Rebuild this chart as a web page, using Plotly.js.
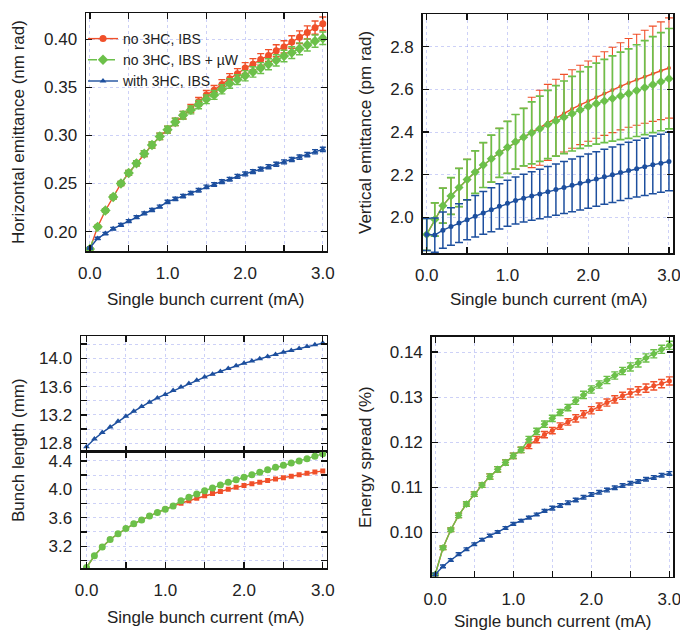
<!DOCTYPE html>
<html>
<head>
<meta charset="utf-8">
<script src="https://cdn.plot.ly/plotly-3.0.1.min.js"></script>
<style>html,body{margin:0;padding:0;background:#fff;}#chart{width:680px;height:630px;}</style>
</head>
<body>
<div id="chart"></div>
<script>
// ---------- data ----------
const current = [0,0.1,0.2,0.3,0.4,0.5,0.6,0.7,0.8,0.9,1.0,1.1,1.2,1.3,1.4,1.5,1.6,1.7,1.8,1.9,2.0,2.1,2.2,2.3,2.4,2.5,2.6,2.7,2.8,2.9,3.0];
const seriesNames = ["no 3HC, IBS", "no 3HC, IBS + \u00b5W", "with 3HC, IBS"];

// Horizontal emittance (nm rad)
const hRed   = [0.182,0.205,0.222,0.236,0.250,0.261,0.271,0.281,0.290,0.299,0.306,0.314,0.321,0.328,0.335,0.342,0.347,0.353,0.359,0.364,0.370,0.374,0.379,0.383,0.388,0.392,0.397,0.402,0.407,0.412,0.416];
const hGreen = [0.182,0.205,0.222,0.236,0.250,0.261,0.271,0.281,0.290,0.299,0.306,0.314,0.321,0.3265,0.332,0.3375,0.342,0.348,0.354,0.358,0.362,0.366,0.370,0.374,0.378,0.3825,0.386,0.390,0.394,0.398,0.401];
const hBlue  = [0.183,0.193,0.198,0.203,0.207,0.211,0.215,0.219,0.2225,0.226,0.231,0.234,0.237,0.240,0.243,0.2465,0.249,0.252,0.2545,0.2575,0.260,0.2625,0.265,0.2675,0.270,0.2725,0.275,0.2775,0.280,0.283,0.2855];
const hRedErr   = [0.001,0.0015,0.0018,0.002,0.0022,0.0025,0.0027,0.003,0.0032,0.0034,0.0036,0.0038,0.004,0.0042,0.0044,0.0046,0.0048,0.005,0.0052,0.0054,0.0056,0.0058,0.006,0.0061,0.0062,0.0064,0.0065,0.0066,0.0068,0.0069,0.007];
const hGreenErr = [0.001,0.0015,0.0018,0.002,0.0022,0.0025,0.0027,0.003,0.0032,0.0034,0.0036,0.0038,0.004,0.0041,0.0043,0.0045,0.0046,0.0048,0.005,0.0051,0.0053,0.0054,0.0056,0.0057,0.0058,0.006,0.0061,0.0062,0.0063,0.0064,0.0065];
const hBlueErr  = [0.001,0.0012,0.0013,0.0014,0.0014,0.0015,0.0015,0.0016,0.0016,0.0016,0.0017,0.0017,0.0017,0.0018,0.0018,0.0018,0.0019,0.0019,0.0019,0.002,0.002,0.002,0.002,0.0021,0.0021,0.0021,0.0021,0.0022,0.0022,0.0022,0.0022];

// Vertical emittance (pm rad)
const vRed   = [1.92,1.99,2.055,2.10,2.14,2.177,2.212,2.245,2.275,2.302,2.328,2.354,2.376,2.398,2.42,2.445,2.467,2.488,2.508,2.527,2.545,2.563,2.58,2.597,2.614,2.63,2.645,2.659,2.673,2.687,2.70];
const vGreen = [1.92,1.99,2.055,2.10,2.14,2.177,2.212,2.245,2.275,2.302,2.328,2.354,2.376,2.396,2.415,2.435,2.452,2.469,2.486,2.503,2.52,2.533,2.545,2.557,2.569,2.58,2.594,2.608,2.622,2.636,2.65];
const vBlue  = [1.92,1.917,1.94,1.957,1.973,1.989,2.005,2.021,2.036,2.052,2.066,2.079,2.09,2.10,2.11,2.12,2.13,2.14,2.15,2.16,2.17,2.18,2.19,2.20,2.21,2.22,2.228,2.237,2.246,2.254,2.262];
const vRedErr   = [0.075,0.078,0.082,0.086,0.09,0.095,0.1,0.105,0.11,0.115,0.122,0.128,0.135,0.165,0.176,0.178,0.18,0.182,0.184,0.186,0.188,0.192,0.196,0.2,0.204,0.208,0.213,0.218,0.223,0.229,0.235];
const vGreenErr = [0.075,0.078,0.082,0.086,0.09,0.095,0.1,0.105,0.11,0.115,0.122,0.128,0.135,0.145,0.153,0.16,0.165,0.17,0.175,0.18,0.185,0.19,0.195,0.2,0.205,0.21,0.215,0.22,0.225,0.23,0.235];
const vBlueErr  = [0.075,0.08,0.085,0.088,0.091,0.094,0.097,0.1,0.103,0.106,0.108,0.11,0.112,0.114,0.116,0.118,0.12,0.122,0.124,0.125,0.127,0.128,0.129,0.13,0.131,0.132,0.133,0.134,0.135,0.136,0.137];

// Bunch length (mm)
const bBlue  = [12.75,12.86,12.95,13.03,13.11,13.18,13.25,13.32,13.38,13.44,13.49,13.545,13.595,13.645,13.69,13.735,13.775,13.815,13.855,13.893,13.93,13.96,13.995,14.025,14.055,14.085,14.11,14.14,14.165,14.19,14.215];
const bRed   = [2.90,3.065,3.19,3.295,3.375,3.45,3.515,3.57,3.625,3.675,3.72,3.765,3.805,3.84,3.875,3.91,3.94,3.97,4.0,4.03,4.055,4.08,4.10,4.125,4.145,4.165,4.185,4.205,4.225,4.245,4.26];
const bGreen = [2.90,3.065,3.19,3.295,3.375,3.45,3.515,3.57,3.625,3.675,3.72,3.765,3.84,3.89,3.935,3.98,4.02,4.06,4.10,4.135,4.17,4.205,4.24,4.275,4.31,4.34,4.37,4.40,4.43,4.465,4.50];

// Energy spread (%)
const eRed   = [0.0907,0.0966,0.1006,0.1038,0.1063,0.1085,0.1105,0.1124,0.114,0.1155,0.117,0.1183,0.1193,0.1206,0.1217,0.1226,0.1236,0.1245,0.1253,0.1262,0.1271,0.1279,0.1288,0.1295,0.1303,0.1309,0.1314,0.132,0.1325,0.133,0.1336];
const eGreen = [0.0907,0.0966,0.1006,0.1038,0.1063,0.1085,0.1105,0.1124,0.114,0.1155,0.117,0.1183,0.1206,0.1224,0.124,0.1253,0.1266,0.1277,0.1292,0.1305,0.1317,0.1328,0.1338,0.1348,0.1358,0.1367,0.1376,0.1387,0.1396,0.1406,0.1415];
const eBlue  = [0.0907,0.0925,0.0939,0.0952,0.0963,0.0974,0.0984,0.0993,0.1001,0.101,0.1019,0.1026,0.1033,0.104,0.1048,0.1054,0.106,0.1066,0.1072,0.1078,0.1084,0.1089,0.1094,0.1099,0.1104,0.1109,0.1113,0.1118,0.1122,0.1127,0.1131];
const eRedErr   = [0.0003,0.0004,0.0004,0.0005,0.0005,0.0005,0.0005,0.0006,0.0006,0.0006,0.0006,0.0006,0.0007,0.0007,0.0007,0.0007,0.0007,0.0007,0.0008,0.0008,0.0008,0.0008,0.0008,0.0008,0.0008,0.0009,0.0009,0.0009,0.0009,0.0009,0.0009];
const eGreenErr = [0.0003,0.0004,0.0004,0.0005,0.0005,0.0005,0.0005,0.0006,0.0006,0.0006,0.0006,0.0006,0.0007,0.0007,0.0007,0.0007,0.0007,0.0007,0.0008,0.0008,0.0008,0.0008,0.0008,0.0008,0.0008,0.0009,0.0009,0.0009,0.0009,0.0009,0.0009];
const eBlueErr  = [0.0003,0.0003,0.0003,0.0003,0.0003,0.0003,0.0003,0.0003,0.0003,0.0003,0.0003,0.0003,0.0003,0.0003,0.0003,0.0004,0.0004,0.0004,0.0004,0.0004,0.0004,0.0004,0.0004,0.0004,0.0004,0.0004,0.0004,0.0004,0.0004,0.0004,0.0004];

// ---------- styling ----------
const RED = '#f0502a', GREEN = '#6cc04a', BLUE = '#1d4f9e';
const FONT = 'Liberation Sans, Arial, Helvetica, sans-serif';
const GRID = 'rgba(135,145,235,0.42)';

function errBar(arr, color, w, th) {
  return {type:'data', array:arr, visible:true, color:color, thickness:th || 1.4, width:w};
}
function trace(y, err, color, symbol, size, xa, ya, name, legend, dash, capw, th) {
  const t = {
    x: current, y: y, type:'scatter', mode:'lines+markers',
    line:{color:color, width:1.4, dash: dash || 'solid'},
    marker:{color:color, symbol:symbol, size:size},
    xaxis: xa, yaxis: ya, name: name, showlegend: !!legend
  };
  if (err) t.error_y = errBar(err, color, capw || 3.5, th);
  return t;
}

const data = [
  // Top-left: horizontal emittance
  trace(hRed,   hRedErr,   RED,   'circle',      7, 'x',  'y',  seriesNames[0], true, 'solid', 3.5),
  trace(hGreen, hGreenErr, GREEN, 'diamond',     8, 'x',  'y',  seriesNames[1], true, 'dash', 3.5),
  trace(hBlue,  hBlueErr,  BLUE,  'triangle-up', 6, 'x',  'y',  seriesNames[2], true, 'solid', 3),
  // Top-right: vertical emittance
  trace(vRed,   vRedErr,   RED,   'circle',      4, 'x2', 'y2', seriesNames[0], false, 'solid', 4, 1.1),
  trace(vGreen, vGreenErr, GREEN, 'diamond',     7, 'x2', 'y2', seriesNames[1], false, 'solid', 4, 1.7),
  trace(vBlue,  vBlueErr,  BLUE,  'circle',      5, 'x2', 'y2', seriesNames[2], false, 'solid', 4, 1.5),
  // Bottom-left: bunch length
  trace(bBlue,  null,      BLUE,  'triangle-up', 6, 'x3', 'y3', seriesNames[2], false),
  trace(bRed,   null,      RED,   'square',      5, 'x4', 'y4', seriesNames[0], false),
  trace(bGreen, null,      GREEN, 'circle',      7, 'x4', 'y4', seriesNames[1], false),
  // Bottom-right: energy spread
  trace(eRed,   eRedErr,   RED,   'circle',      5, 'x5', 'y5', seriesNames[0], false, 'solid', 3.5),
  trace(eGreen, eGreenErr, GREEN, 'diamond',     6, 'x5', 'y5', seriesNames[1], false, 'solid', 3.5),
  trace(eBlue,  eBlueErr,  BLUE,  'triangle-up', 5, 'x5', 'y5', seriesNames[2], false, 'solid', 3)
];

function axis(opts) {
  const a = {
    domain: opts.domain, anchor: opts.anchor, range: opts.range,
    showline:true, linecolor:'#111', linewidth:1.5, mirror:'allticks',
    ticks:'inside', ticklen:6, tickwidth:1.3, tickcolor:'#111',
    showgrid:true, gridcolor:GRID, griddash:'dot', gridwidth:1,
    zeroline:false, tickmode:'linear', tick0: opts.tick0, dtick: opts.dtick,
    tickformat: opts.fmt, showticklabels: opts.labels !== false,
    tickfont:{family:FONT, size:17, color:'#222'},
    ticklabeloverflow:'allow',
    ticklabelstandoff: opts.standoff || 4, fixedrange:true
  };
  if (opts.minor) a.minor = {tick0: opts.tick0, dtick: opts.minor, ticks:'inside', ticklen:6, tickwidth:1.3, tickcolor:'#111', showgrid:true, gridcolor:GRID, griddash:'dot', gridwidth:1};
  return a;
}

function px(v){ return v/680; }
function py(v){ return 1 - v/630; }

const layout = {
  width:680, height:630, paper_bgcolor:'#fff', plot_bgcolor:'#fff',
  margin:{l:0, r:0, t:0, b:0},
  font:{family:FONT, color:'#222'},
  showlegend:true,
  legend:{x:px(83), y:py(23), xanchor:'left', yanchor:'top', bgcolor:'rgba(255,255,255,0)',
          borderwidth:0, font:{family:FONT, size:14, color:'#222'}, tracegroupgap:0, itemwidth:30},
  xaxis:  axis({domain:[px(86), px(326.7)], anchor:'y',  range:[-0.05,3.05], tick0:0, dtick:1, minor:0.5, fmt:'.1f', standoff:6}),
  yaxis:  axis({domain:[py(251), py(13)],   anchor:'x',  range:[0.1799,0.4272], tick0:0, dtick:0.05, fmt:'.2f'}),
  xaxis2: axis({domain:[px(422.7), px(673)], anchor:'y2', range:[-0.05,3.05], tick0:0, dtick:1, minor:0.5, fmt:'.1f', standoff:6}),
  yaxis2: axis({domain:[py(253), py(14)],   anchor:'x2', range:[1.833,2.953], tick0:0, dtick:0.2, fmt:'.1f'}),
  xaxis3: axis({domain:[px(81), px(326.7)], anchor:'y3', range:[-0.07,3.05], tick0:0, dtick:1, minor:0.5, fmt:'.1f', labels:false, matches:'x4'}),
  yaxis3: axis({domain:[py(451.7), py(336)], anchor:'x3', range:[12.68,14.315], tick0:0, dtick:0.4, minor:0.2, fmt:'.1f'}),
  xaxis4: axis({domain:[px(81), px(326.7)], anchor:'y4', range:[-0.07,3.05], tick0:0, dtick:1, minor:0.5, fmt:'.1f', standoff:6}),
  yaxis4: axis({domain:[py(568), py(451.7)], anchor:'x4', range:[2.893,4.53], tick0:0, dtick:0.4, minor:0.2, fmt:'.1f'}),
  xaxis5: axis({domain:[px(431.7), px(673.3)], anchor:'y5', range:[-0.045,3.05], tick0:0, dtick:1, minor:0.5, fmt:'.1f', standoff:6}),
  yaxis5: axis({domain:[py(576.7), py(336.7)], anchor:'x5', range:[0.0902,0.1434], tick0:0, dtick:0.01, fmt:'.2f'}),
  annotations: [
    {text:'Horizontal emittance (nm rad)', x:px(18), y:py(132), textangle:-90},
    {text:'Single bunch current (mA)', x:px(206), y:py(299)},
    {text:'Vertical emittance (pm rad)', x:px(365), y:py(133), textangle:-90},
    {text:'Single bunch current (mA)', x:px(548), y:py(299)},
    {text:'Bunch length (mm)', x:px(18), y:py(450), textangle:-90},
    {text:'Single bunch current (mA)', x:px(205), y:py(617)},
    {text:'Energy spread (%)', x:px(365), y:py(457), textangle:-90},
    {text:'Single bunch current (mA)', x:px(552), y:py(621)}
  ].map(a => Object.assign({xref:'paper', yref:'paper', showarrow:false, xanchor:'center', yanchor:'middle',
                            font:{family:FONT, size:17, color:'#222'}}, a))
};

Plotly.newPlot('chart', data, layout, {staticPlot:true, displayModeBar:false});
</script>
</body>
</html>
